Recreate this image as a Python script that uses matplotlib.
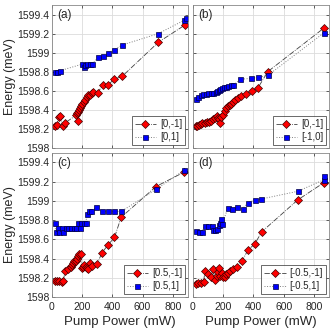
import matplotlib.pyplot as plt

plt.rcParams['font.family'] = ['Liberation Sans', 'DejaVu Sans']

# --- Daten ---
# (a) [0,-1] / [0,1]
a_red_p = [20, 31, 48, 52, 73, 85, 158, 165, 170, 175, 180, 188, 195, 202, 210, 220, 230, 240, 250, 262, 272, 302, 338, 372, 410, 464, 705, 880]
a_red_e = [1598.23, 1598.24, 1598.32, 1598.33, 1598.23, 1598.26, 1598.34, 1598.37, 1598.28, 1598.38, 1598.40, 1598.42, 1598.44, 1598.46, 1598.48, 1598.50, 1598.53, 1598.55, 1598.56, 1598.58, 1598.59, 1598.58, 1598.66, 1598.66, 1598.72, 1598.75, 1599.11, 1599.29]
a_blue_p = [20, 35, 53, 202, 213, 222, 235, 250, 268, 305, 338, 373, 412, 465, 704, 875, 886]
a_blue_e = [1598.80, 1598.80, 1598.81, 1598.88, 1598.85, 1598.87, 1598.88, 1598.88, 1598.88, 1598.95, 1598.96, 1599.00, 1599.03, 1599.08, 1599.20, 1599.34, 1599.36]

# (b) [0,-1] / [-1,0]
b_red_p = [20, 28, 40, 50, 62, 78, 95, 108, 122, 132, 145, 158, 168, 175, 182, 188, 200, 210, 220, 232, 242, 252, 265, 280, 300, 320, 350, 388, 430, 495, 868]
b_red_e = [1598.23, 1598.23, 1598.24, 1598.25, 1598.26, 1598.26, 1598.27, 1598.27, 1598.28, 1598.30, 1598.31, 1598.33, 1598.31, 1598.30, 1598.26, 1598.32, 1598.35, 1598.39, 1598.42, 1598.44, 1598.45, 1598.46, 1598.48, 1598.50, 1598.52, 1598.54, 1598.57, 1598.60, 1598.63, 1598.80, 1599.26]
b_blue_p = [20, 35, 50, 68, 85, 100, 118, 135, 150, 160, 172, 182, 195, 205, 218, 235, 250, 268, 314, 386, 430, 495, 868]
b_blue_e = [1598.51, 1598.53, 1598.55, 1598.57, 1598.57, 1598.58, 1598.58, 1598.58, 1598.59, 1598.60, 1598.61, 1598.62, 1598.63, 1598.64, 1598.64, 1598.65, 1598.66, 1598.66, 1598.72, 1598.73, 1598.74, 1598.76, 1599.21]

# (c) [0.5,-1] / [0.5,1]
c_red_p = [20, 35, 48, 64, 75, 88, 107, 123, 132, 140, 149, 158, 167, 175, 180, 191, 197, 206, 214, 224, 232, 239, 250, 263, 298, 331, 370, 414, 458, 689, 875]
c_red_e = [1598.17, 1598.17, 1598.17, 1598.16, 1598.17, 1598.27, 1598.29, 1598.31, 1598.33, 1598.35, 1598.37, 1598.38, 1598.40, 1598.43, 1598.45, 1598.45, 1598.30, 1598.31, 1598.33, 1598.31, 1598.30, 1598.29, 1598.35, 1598.32, 1598.34, 1598.46, 1598.54, 1598.62, 1598.83, 1599.15, 1599.30]
c_blue_p = [20, 24, 42, 48, 66, 75, 90, 107, 125, 145, 162, 175, 184, 195, 210, 224, 232, 243, 261, 294, 333, 370, 410, 458, 689, 875]
c_blue_e = [1598.77, 1598.68, 1598.72, 1598.68, 1598.72, 1598.68, 1598.72, 1598.72, 1598.72, 1598.72, 1598.72, 1598.77, 1598.72, 1598.77, 1598.77, 1598.77, 1598.86, 1598.89, 1598.89, 1598.94, 1598.89, 1598.89, 1598.89, 1598.89, 1599.12, 1599.32]

# (d) [-0.5,-1] / [-0.5,1]
d_red_p = [20, 35, 50, 70, 80, 100, 118, 134, 145, 156, 164, 171, 180, 189, 200, 211, 221, 232, 243, 265, 294, 327, 364, 408, 456, 693, 866]
d_red_e = [1598.14, 1598.15, 1598.15, 1598.16, 1598.27, 1598.24, 1598.21, 1598.29, 1598.18, 1598.22, 1598.26, 1598.30, 1598.22, 1598.25, 1598.21, 1598.21, 1598.24, 1598.25, 1598.27, 1598.29, 1598.31, 1598.38, 1598.49, 1598.55, 1598.68, 1599.01, 1599.19]
d_blue_p = [20, 42, 60, 79, 100, 123, 135, 145, 162, 171, 178, 184, 193, 232, 261, 294, 329, 364, 408, 452, 693, 866, 870]
d_blue_e = [1598.69, 1598.68, 1598.68, 1598.74, 1598.74, 1598.74, 1598.70, 1598.70, 1598.71, 1598.75, 1598.77, 1598.81, 1598.76, 1598.93, 1598.92, 1598.94, 1598.92, 1598.98, 1599.01, 1599.02, 1599.10, 1599.22, 1599.26]

panels = [
    ('(a)', a_red_p, a_red_e, a_blue_p, a_blue_e, '[0,-1]', '[0,1]'),
    ('(b)', b_red_p, b_red_e, b_blue_p, b_blue_e, '[0,-1]', '[-1,0]'),
    ('(c)', c_red_p, c_red_e, c_blue_p, c_blue_e, '[0.5,-1]', '[0.5,1]'),
    ('(d)', d_red_p, d_red_e, d_blue_p, d_blue_e, '[-0.5,-1]', '[-0.5,1]'),
]

# Achsenpositionen in Figur-Koordinaten
positions = [
    [0.155, 0.560, 0.406, 0.425],
    [0.576, 0.560, 0.406, 0.425],
    [0.155, 0.116, 0.406, 0.429],
    [0.576, 0.116, 0.406, 0.429],
]

fig = plt.figure(figsize=(3.35, 3.36), dpi=100)
edge_col = '#262626'

for i, (label, rp, re, bp, be, lr, lb) in enumerate(panels):
    ax = fig.add_axes(positions[i])
    ax.plot(rp, re, linestyle='-.', color='#404040', linewidth=0.6,
            marker='D', markersize=3.6, markerfacecolor='#ff0000',
            markeredgecolor='#400000', markeredgewidth=0.5, label=lr)
    ax.plot(bp, be, linestyle=':', color='#808080', linewidth=0.7,
            marker='s', markersize=3.6, markerfacecolor='#0000ff',
            markeredgecolor='#000040', markeredgewidth=0.5, label=lb)
    ax.set_xlim(0, 900)
    ax.set_ylim(1598, 1599.5)
    ax.set_xticks([0, 200, 400, 600, 800])
    ax.set_yticks([1598, 1598.2, 1598.4, 1598.6, 1598.8, 1599, 1599.2, 1599.4])
    ax.grid(True, color='#dcdcdc', linewidth=0.6)
    ax.set_axisbelow(True)
    ax.tick_params(direction='in', length=2.5, width=0.5, labelsize=7.5,
                   colors=edge_col, top=True, right=True, pad=2)
    ax.tick_params(axis='x', pad=3.5)
    for s in ax.spines.values():
        s.set_color('#888888')
        s.set_linewidth(0.6)
    if i % 2 == 0:
        ax.set_yticklabels(['1598', '1598.2', '1598.4', '1598.6', '1598.8', '1599', '1599.2', '1599.4'])
        ax.set_ylabel('Energy (meV)', fontsize=9, color=edge_col, labelpad=1)
    else:
        ax.set_yticklabels([])
    if i >= 2:
        ax.set_xlabel('Pump Power (mW)', fontsize=9.5, color=edge_col, labelpad=3)
    else:
        ax.set_xticklabels([])
    ax.text(0.04, 0.97, label, transform=ax.transAxes, ha='left', va='top',
            fontsize=8.5, color=edge_col)
    leg = ax.legend(loc='lower right', fontsize=7, frameon=True, fancybox=False,
                    handlelength=2.2, handletextpad=0.4, borderpad=0.3,
                    labelspacing=0.3, borderaxespad=0.3)
    leg.get_frame().set_edgecolor(edge_col)
    leg.get_frame().set_linewidth(0.6)
    for t in leg.get_texts():
        t.set_color(edge_col)

plt.savefig('out.png', dpi=100)
